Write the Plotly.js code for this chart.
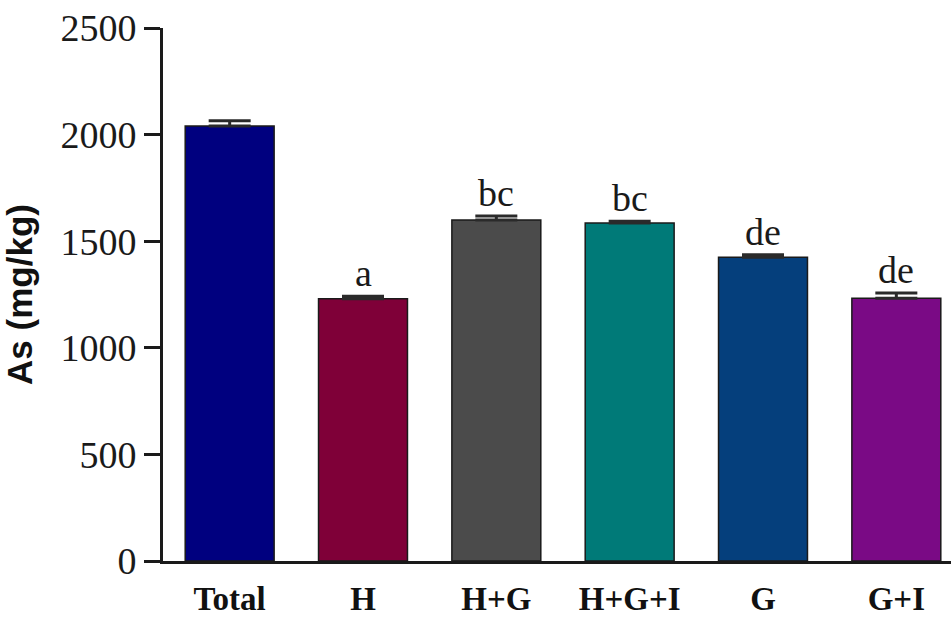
<!DOCTYPE html>
<html>
<head>
<meta charset="utf-8">
<script src="https://cdn.plot.ly/plotly-3.0.1.min.js"></script>
<style>html,body{margin:0;padding:0;background:#fff;}#chart{width:951px;height:618px;}</style>
</head>
<body>
<div id="chart"></div>
<script>
const categories = ["Total", "H", "H+G", "H+G+I", "G", "G+I"];
const values = [2040, 1230, 1600, 1585, 1425, 1232];
const errors = [25, 12, 18, 8, 12, 25];
const letters = ["", "a", "bc", "bc", "de", "de"];
const barColors = ["#00007f", "#7f0038", "#4b4b4b", "#007a78", "#053f7c", "#7a0a85"];

const trace = {
  type: "bar",
  x: categories,
  y: values,
  width: 0.667,
  marker: { color: barColors, line: { color: "#1a1a1a", width: 1.5 } },
  error_y: {
    type: "data", symmetric: false, array: errors,
    arrayminus: errors.map(() => 0),
    color: "#2a2a2a", thickness: 3, width: 21
  },
  hoverinfo: "none"
};

const annotations = categories.map((c, i) => ({
  x: c, y: values[i] + errors[i], xref: "x", yref: "y",
  text: letters[i], showarrow: false, yanchor: "bottom", yshift: 0,
  font: { family: "Liberation Serif, Times New Roman, serif", size: 38, color: "#1a1a1a" }
})).filter(a => a.text);

const layout = {
  width: 951, height: 618,
  margin: { l: 163, r: 0, t: 28, b: 57 },
  paper_bgcolor: "#ffffff", plot_bgcolor: "#ffffff",
  showlegend: false,
  bargap: 0.333,
  xaxis: {
    type: "category",
    range: [-0.5, 5.41],
    showline: true, linecolor: "#1a1a1a", linewidth: 3,
    ticks: "", showgrid: false, zeroline: false,
    ticklabelstandoff: 6,
    tickfont: { family: "Liberation Serif, Times New Roman, serif", size: 33, color: "#111", weight: "bold" }
  },
  yaxis: {
    range: [0, 2500],
    tickvals: [0, 500, 1000, 1500, 2000, 2500],
    ticktext: ["0", "500", "1000", "1500", "2000", "2500"],
    showline: true, linecolor: "#1a1a1a", linewidth: 3,
    ticks: "outside", ticklen: 16, tickwidth: 3, tickcolor: "#1a1a1a",
    showgrid: false, zeroline: false,
    tickfont: { family: "Liberation Serif, Times New Roman, serif", size: 38, color: "#1a1a1a" },
    title: {
      text: "As (mg/kg)", standoff: 18,
      font: { family: "Liberation Sans, Arial, sans-serif", size: 35, color: "#111", weight: "bold" }
    }
  },
  annotations: annotations
};

Plotly.newPlot("chart", [trace], layout, { displayModeBar: false, staticPlot: true });
</script>
</body>
</html>
